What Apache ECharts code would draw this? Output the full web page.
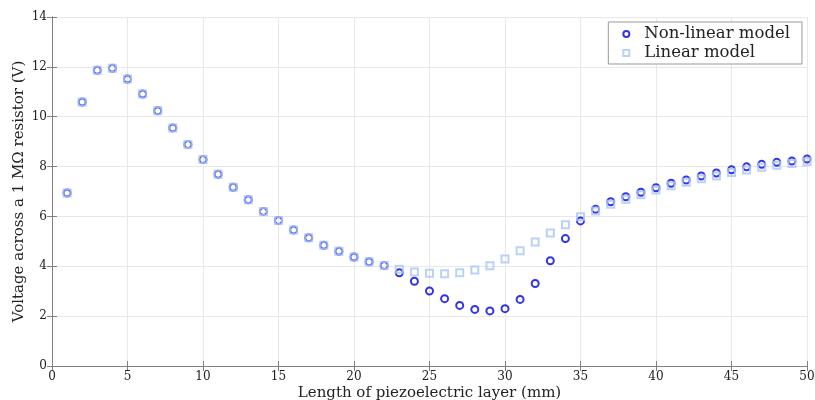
<!DOCTYPE html>
<html><head><meta charset="utf-8">
<script src="https://cdn.jsdelivr.net/npm/echarts@6/dist/echarts.min.js"></script>
<style>html,body{margin:0;padding:0;background:#fff}#c{width:815px;height:400px}</style>
</head><body><div id="c"></div>
<script>
const lengths = [1,2,3,4,5,6,7,8,9,10,11,12,13,14,15,16,17,18,19,20,21,22,23,24,25,26,27,28,29,30,31,32,33,34,35,36,37,38,39,40,41,42,43,44,45,46,47,48,49,50];
const nonLinear = [6.94,10.59,11.86,11.94,11.51,10.91,10.24,9.55,8.89,8.28,7.69,7.17,6.67,6.20,5.84,5.46,5.14,4.84,4.60,4.37,4.18,4.03,3.74,3.40,3.01,2.70,2.43,2.27,2.21,2.30,2.67,3.31,4.22,5.11,5.82,6.29,6.59,6.79,6.97,7.15,7.33,7.46,7.62,7.74,7.87,7.99,8.09,8.17,8.22,8.30];
const linear = [6.94,10.59,11.86,11.94,11.51,10.91,10.24,9.55,8.89,8.28,7.69,7.17,6.67,6.20,5.84,5.46,5.14,4.84,4.60,4.37,4.18,4.03,3.88,3.77,3.72,3.70,3.74,3.85,4.02,4.29,4.62,4.97,5.34,5.67,5.99,6.22,6.49,6.69,6.87,7.06,7.23,7.37,7.51,7.62,7.76,7.86,7.97,8.05,8.12,8.19];
const xTicks = [0,5,10,15,20,25,30,35,40,45,50];
const yTicks = [0,2,4,6,8,10,12,14];

const font = 'DejaVu Serif';
const axisCol = '#808080';
const chart = echarts.init(document.getElementById('c'));
const mk = (arr) => lengths.map((x,i)=>[x,arr[i]]);
chart.setOption({
  animation:false,
  textStyle:{fontFamily:font},
  grid:{left:52,right:8,top:17,bottom:34,outerBoundsMode:'none',containLabel:false},
  legend:{
    right:13, top:22, orient:'vertical',
    backgroundColor:'#fff', borderColor:'#999', borderWidth:1,
    padding:[3,12,2,14], itemGap:1, itemWidth:6, itemHeight:6,
    textStyle:{fontFamily:font,fontSize:16.5,lineHeight:18,color:'#222',padding:[0,0,0,10]},
    data:['Non-linear model','Linear model']
  },
  xAxis:[{
    type:'value', min:0, max:50, interval:5,
    name:'Length of piezoelectric layer (mm)', nameLocation:'middle', nameGap:20, nameMoveOverlap:false,
    nameTextStyle:{fontFamily:font,fontSize:15,color:'#222'},
    axisLine:{lineStyle:{color:axisCol}},
    axisTick:{inside:true,length:5,lineStyle:{color:axisCol}},
    axisLabel:{fontFamily:font,fontSize:12,color:'#222',margin:5},
    splitLine:{lineStyle:{color:'#e8e8e8'}}
  },{
    type:'value', min:0, max:50, interval:5, position:'top',
    axisLine:{show:true,lineStyle:{color:axisCol}},
    axisTick:{inside:true,length:5,lineStyle:{color:axisCol}},
    axisLabel:{show:false}, splitLine:{show:false}
  }],
  yAxis:[{
    type:'value', min:0, max:14, interval:2,
    name:'Voltage across a 1 MΩ resistor (V)', nameLocation:'middle', nameGap:25, nameMoveOverlap:false,
    nameTextStyle:{fontFamily:font,fontSize:15,color:'#222'},
    axisLine:{show:true,lineStyle:{color:axisCol}},
    axisTick:{show:true,inside:true,length:5,lineStyle:{color:axisCol}},
    axisLabel:{fontFamily:font,fontSize:12,color:'#222',margin:5},
    splitLine:{lineStyle:{color:'#e8e8e8'}}
  },{
    type:'value', min:0, max:14, interval:2, position:'right',
    axisLine:{show:true,lineStyle:{color:axisCol}},
    axisTick:{show:true,inside:true,length:5,lineStyle:{color:axisCol}},
    axisLabel:{show:false}, splitLine:{show:false}
  }],
  series:[{
    name:'Non-linear model', type:'scatter', data:mk(nonLinear),
    symbol:'circle', symbolSize:7,
    itemStyle:{color:'rgba(255,255,255,0)',borderColor:'#0000e6',borderWidth:2}
  },{
    name:'Linear model', type:'scatter', data:mk(linear),
    symbol:'rect', symbolSize:7,
    itemStyle:{color:'rgba(255,255,255,0)',borderColor:'#aac6f6',borderWidth:2}
  }]
});
</script></body></html>
